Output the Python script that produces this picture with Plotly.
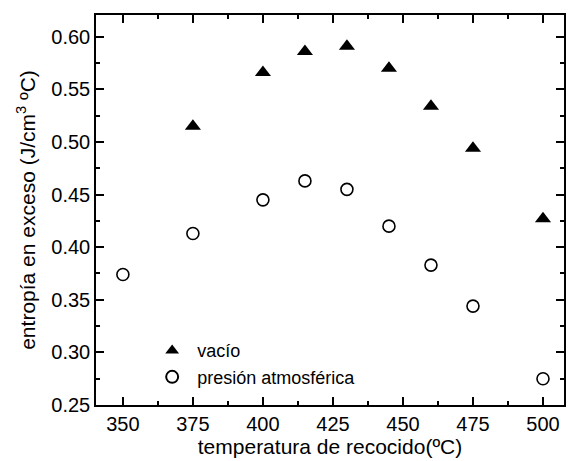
import plotly.graph_objects as go

temp_vacio = [375, 400, 415, 430, 445, 460, 475, 500]
entropia_vacio = [0.515, 0.566, 0.586, 0.591, 0.570, 0.534, 0.494, 0.427]

temp_atm = [350, 375, 400, 415, 430, 445, 460, 475, 500]
entropia_atm = [0.374, 0.413, 0.445, 0.463, 0.455, 0.420, 0.383, 0.344, 0.275]

fam = "Liberation Sans, Arial, sans-serif"
tick_font = dict(family=fam, size=20, color="black")
title_font = dict(family=fam, size=21, color="black")

fig = go.Figure()
fig.add_trace(go.Scatter(
    x=temp_vacio, y=entropia_vacio, mode="markers", name="\u00a0vacío",
    marker=dict(symbol="triangle-up", size=14, color="black", line=dict(width=0)),
))
fig.add_trace(go.Scatter(
    x=temp_atm, y=entropia_atm, mode="markers", name="\u00a0presión atmosférica",
    marker=dict(symbol="circle-open", size=12, color="black", line=dict(width=1.6)),
))

axis_common = dict(
    showline=True, linecolor="black", linewidth=1.5, mirror="allticks",
    ticks="inside", ticklen=8, tickwidth=1.5, tickcolor="black",
    showgrid=False, zeroline=False, tickfont=tick_font,
)

fig.update_xaxes(
    range=[340.4, 507.5], tickmode="linear", tick0=350, dtick=25,
    minor=dict(ticks="inside", ticklen=4, tickwidth=1.5, tickcolor="black", dtick=12.5, tick0=350, showgrid=False),
    title=dict(text="temperatura de recocido(ºC)", font=title_font, standoff=4),
    **axis_common,
)
fig.update_yaxes(
    range=[0.25, 0.6207], tickmode="linear", tick0=0.25, dtick=0.05, tickformat=".2f",
    minor=dict(ticks="inside", ticklen=4, tickwidth=1.5, tickcolor="black", dtick=0.025, tick0=0.25, showgrid=False),
    title=dict(text="entropía en exceso (J/cm<sup>3</sup> ºC)", font=title_font, standoff=10),
    **axis_common,
)

fig.update_layout(
    width=568, height=461,
    margin=dict(l=96, r=2, t=15, b=56),
    paper_bgcolor="white", plot_bgcolor="white",
    font=tick_font,
    showlegend=True,
    legend=dict(
        x=0.12, y=0.025, xanchor="left", yanchor="bottom",
        bgcolor="rgba(0,0,0,0)", font=dict(family=fam, size=18, color="black"),
        tracegroupgap=0, itemsizing="constant",
    ),
)

fig.write_html("out.html")
